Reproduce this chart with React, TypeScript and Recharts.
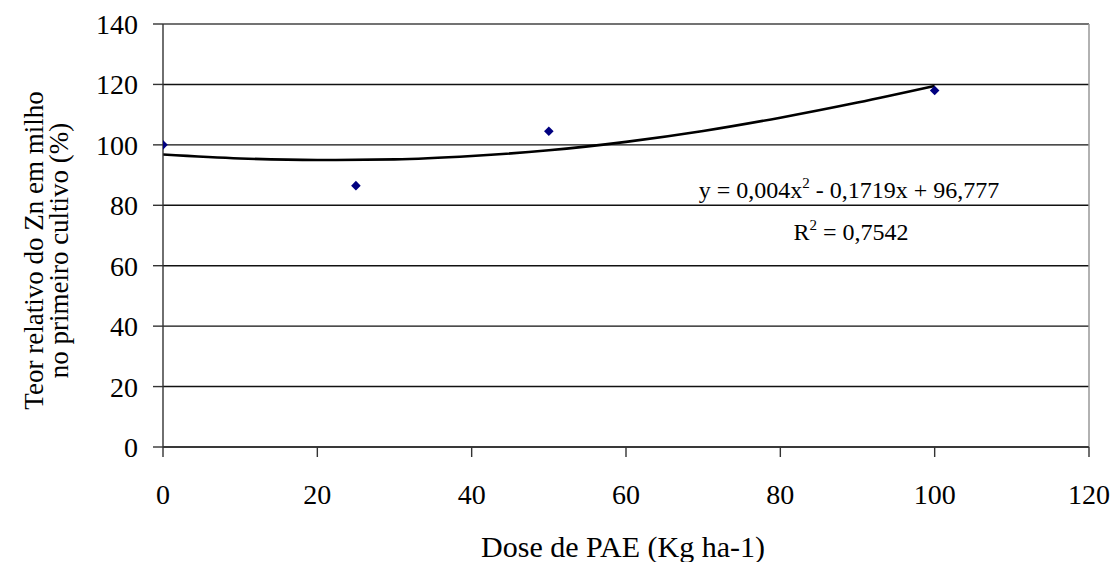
import React from 'react';
import { ComposedChart, Scatter, Line, XAxis, YAxis, CartesianGrid, ReferenceLine } from 'recharts';

const doses = [0, 25, 50, 100];
const teorRelativo = [100, 86.5, 104.5, 118];
const trendDoses = [0, 10, 20, 30, 40, 50, 60, 70, 80, 90, 100];
const trendValues = [96.8, 95.5, 95.0, 95.2, 96.3, 98.2, 101.0, 104.6, 109.0, 114.0, 119.5];
const xTicks = [0, 20, 40, 60, 80, 100, 120];
const yTicks = [0, 20, 40, 60, 80, 100, 120, 140];
const xLabel = 'Dose de PAE (Kg ha-1)';
const yLabelLines = ['Teor relativo do Zn em milho', 'no primeiro cultivo (%)'];
const equation = { lead: 'y = 0,004x', sup: '2', tail: ' - 0,1719x + 96,777' };
const r2 = { lead: 'R', sup: '2', tail: ' = 0,7542' };

const points = doses.map((d, i) => ({ x: d, y: teorRelativo[i] }));
const trend = trendDoses.map((d, i) => ({ x: d, y: trendValues[i] }));

const FONT = '"Liberation Serif", "Times New Roman", serif';

const Diamond = (props: any) => {
  const { cx, cy } = props;
  const r = 4.8;
  return (
    <polygon
      points={`${cx},${cy - r} ${cx + r},${cy} ${cx},${cy + r} ${cx - r},${cy}`}
      fill="#000080"
    />
  );
};

const YLabel = (props: any) => {
  const vb = props.viewBox || { x: 0, y: 24, width: 163, height: 423 };
  const cy = vb.y + vb.height / 2 + 15;
  const xs = [vb.x + 43, vb.x + 68];
  return (
    <g>
      {yLabelLines.map((t, i) => (
        <text
          key={i}
          x={xs[i]}
          y={cy}
          transform={`rotate(-90, ${xs[i]}, ${cy})`}
          textAnchor="middle"
          fontFamily={FONT}
          fontSize={27}
          fill="#000"
        >
          {t}
        </text>
      ))}
    </g>
  );
};

export default function App() {
  return (
    <div style={{ position: 'absolute', left: 0, top: 0 }}>
      <ComposedChart
        width={1113}
        height={562}
        margin={{ top: 24, right: 24, left: 0, bottom: 0 }}
        style={{ background: '#fff' }}
      >
        <CartesianGrid vertical={false} stroke="#111" strokeWidth={1.4} />
        <XAxis
          type="number"
          dataKey="x"
          domain={[0, 120]}
          ticks={xTicks}
          allowDataOverflow
          height={115}
          tickSize={10}
          tickMargin={27}
          stroke="#333"
          strokeWidth={1.4}
          tick={{ fill: '#000', fontSize: 28, fontFamily: FONT }}
          label={{
            value: xLabel,
            position: 'insideTop',
            offset: 89,
            dx: -3,
            style: { fill: '#000', fontSize: 30, fontFamily: FONT },
          }}
        />
        <YAxis
          type="number"
          dataKey="y"
          domain={[0, 140]}
          ticks={yTicks}
          allowDataOverflow
          width={163}
          tickSize={10}
          tickMargin={15}
          stroke="#333"
          strokeWidth={1.4}
          tick={{ fill: '#000', fontSize: 28, fontFamily: FONT }}
          label={{ content: YLabel }}
        />
        <ReferenceLine y={140} stroke="#808080" strokeWidth={1.5} />
        <ReferenceLine x={120} stroke="#999" strokeWidth={1.5} />
        <Line
          data={trend}
          dataKey="y"
          type="monotone"
          stroke="#000"
          strokeWidth={2.6}
          dot={false}
          isAnimationActive={false}
        />
        <Scatter data={points} dataKey="y" shape={<Diamond />} isAnimationActive={false} />
        <text x={849} y={198} textAnchor="middle" fontFamily={FONT} fontSize={24} fill="#000">
          {equation.lead}
          <tspan dy={-10} fontSize={15}>{equation.sup}</tspan>
          <tspan dy={10}>{equation.tail}</tspan>
        </text>
        <text x={851} y={240} textAnchor="middle" fontFamily={FONT} fontSize={24} fill="#000">
          {r2.lead}
          <tspan dy={-10} fontSize={15}>{r2.sup}</tspan>
          <tspan dy={10}>{r2.tail}</tspan>
        </text>
      </ComposedChart>
    </div>
  );
}
